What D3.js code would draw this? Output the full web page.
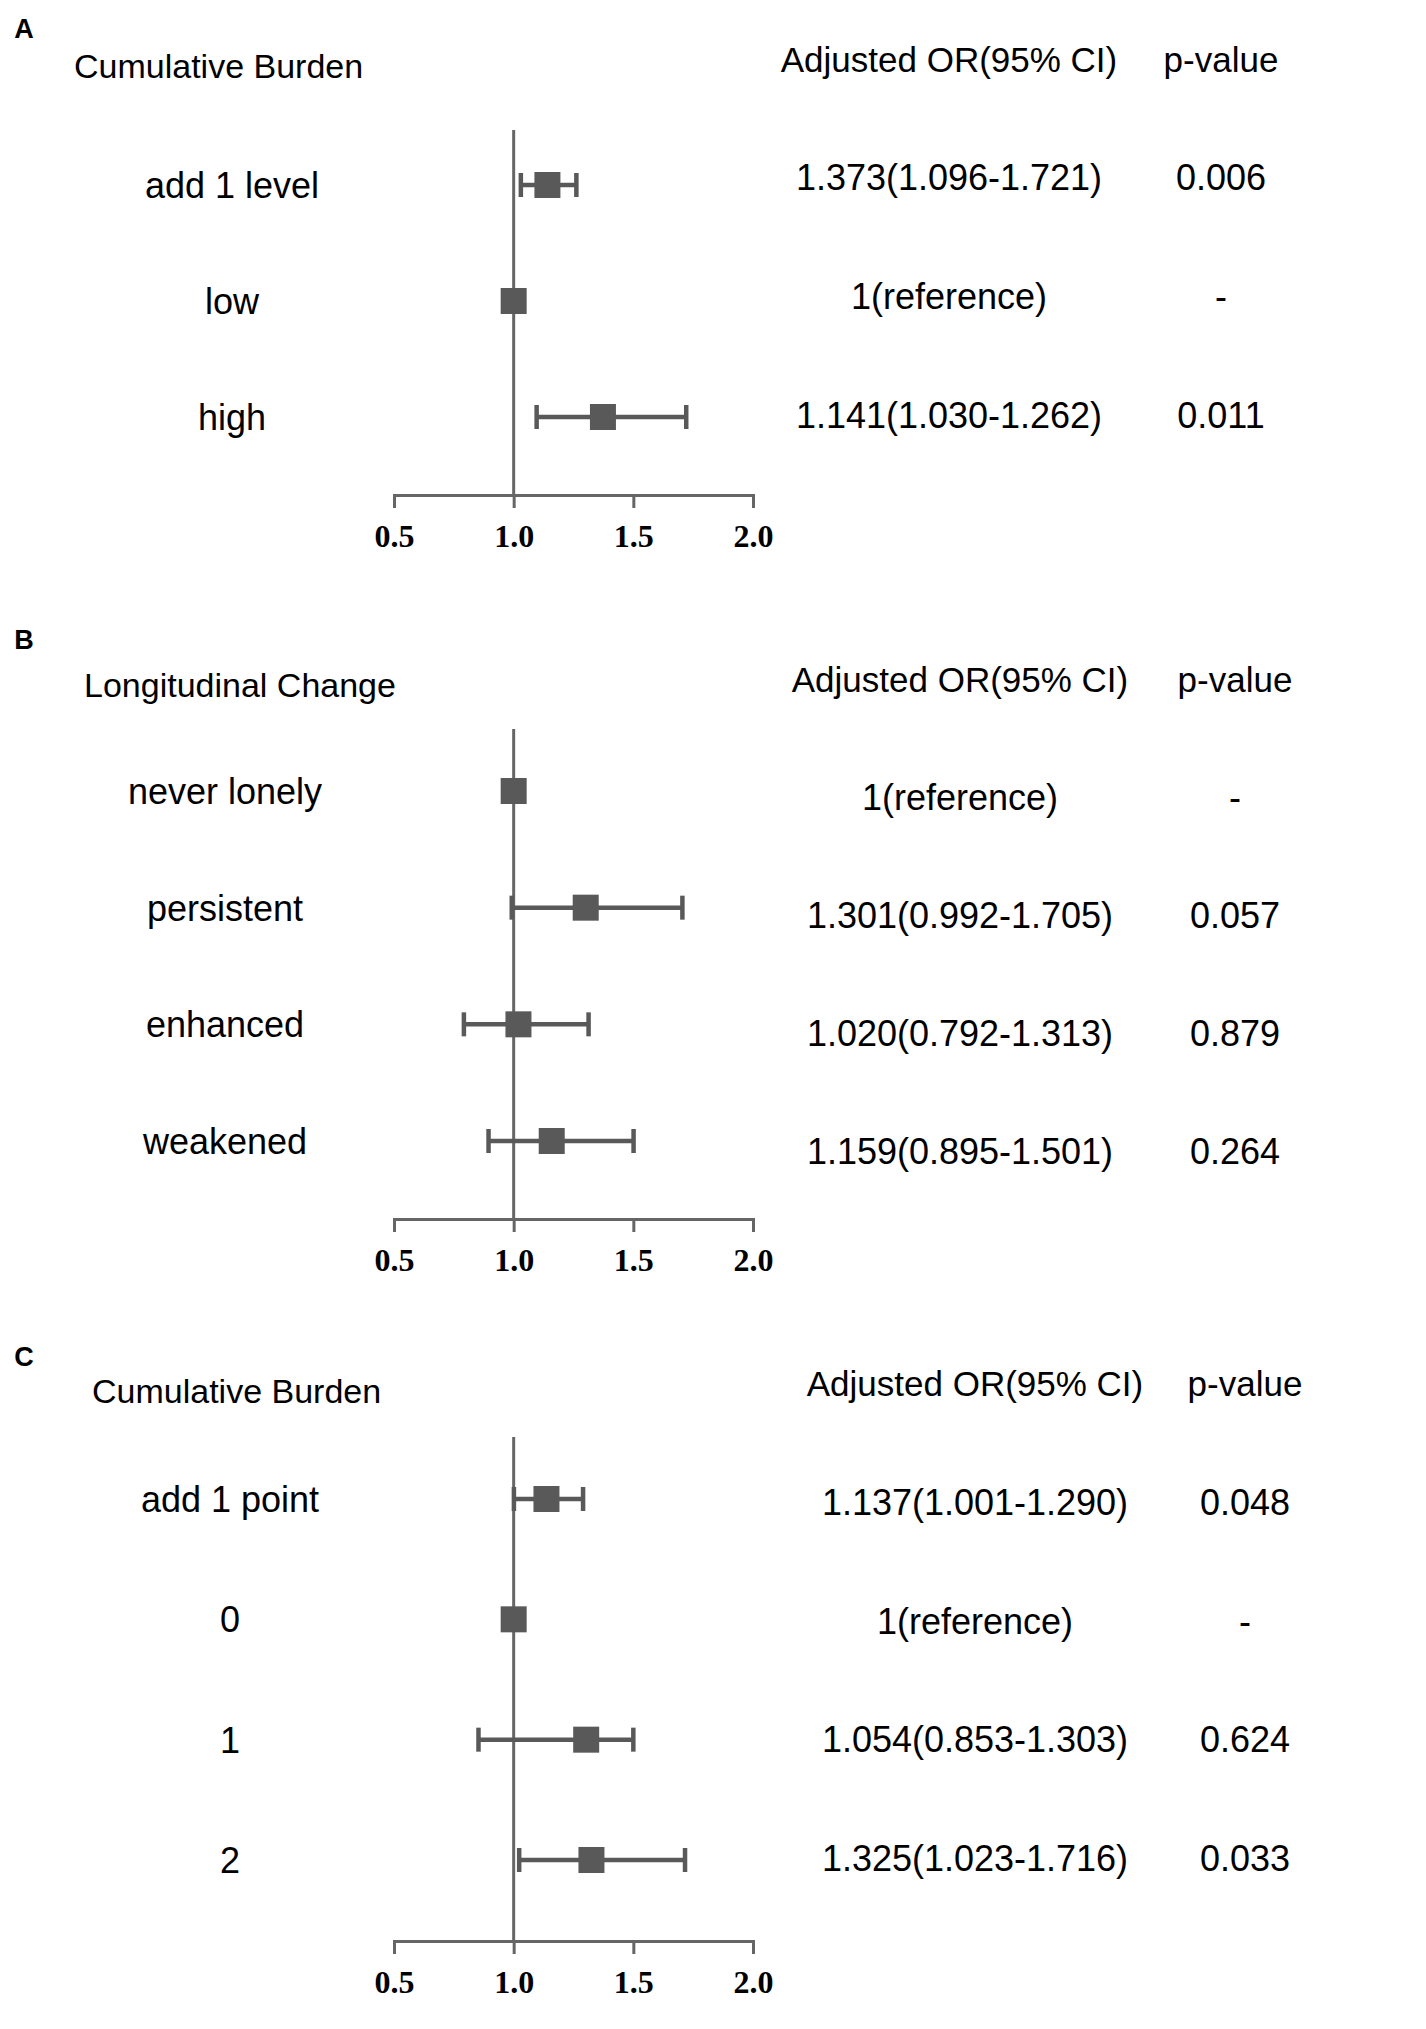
<!DOCTYPE html>
<html>
<head>
<meta charset="utf-8">
<script src="https://cdn.jsdelivr.net/npm/d3@7"></script>
<style>
  body { margin: 0; background: #fff; }
  text { font-family: "Liberation Sans", Arial, sans-serif; fill: #000; }
</style>
</head>
<body>
<svg id="chart"></svg>
<script>
const WIDTH = 1426;
const HEIGHT = 2029;

const MARK_COLOR = '#595959';
const LINE_COLOR = '#666';

// x axis shared by all three panels
const axisTicks = [0.5, 1.0, 1.5, 2.0];

// panel A
const labelsA = ['add 1 level', 'low', 'high'];
const estA = [1.141, 1, 1.373];
const lowA = [1.030, null, 1.096];
const highA = [1.262, null, 1.721];
const orTextA = ['1.373(1.096-1.721)', '1(reference)', '1.141(1.030-1.262)'];
const pTextA = ['0.006', '-', '0.011'];

// panel B
const labelsB = ['never lonely', 'persistent', 'enhanced', 'weakened'];
const estB = [1, 1.301, 1.020, 1.159];
const lowB = [null, 0.992, 0.792, 0.895];
const highB = [null, 1.705, 1.313, 1.501];
const orTextB = ['1(reference)', '1.301(0.992-1.705)', '1.020(0.792-1.313)', '1.159(0.895-1.501)'];
const pTextB = ['-', '0.057', '0.879', '0.264'];

// panel C
const labelsC = ['add 1 point', '0', '1', '2'];
const estC = [1.137, 1, 1.303, 1.325];
const lowC = [1.001, null, 0.853, 1.023];
const highC = [1.290, null, 1.500, 1.716];
const orTextC = ['1.137(1.001-1.290)', '1(reference)', '1.054(0.853-1.303)', '1.325(1.023-1.716)'];
const pTextC = ['0.048', '-', '0.624', '0.033'];

const svg = d3.select('#chart').attr('width', WIDTH).attr('height', HEIGHT);

const x = d3.scaleLinear().domain([0.5, 2.0]).range([394, 753]);

function drawPanel(p) {
    const rows = p.labels.map((label, i) => ({
        label: label,
        est: p.est[i],
        low: p.low[i],
        high: p.high[i],
        or: p.orText[i],
        pv: p.pText[i]
    }));

    const yRow = d3.scalePoint().domain(p.labels).range(p.rowRange);
    const yVal = d3.scalePoint().domain(p.labels).range(p.valRange);

    const g = svg.append('g');

    g.append('text')
        .attr('x', 24)
        .attr('y', p.letterY)
        .attr('dy', '0.36em')
        .attr('text-anchor', 'middle')
        .style('font-weight', 'bold')
        .style('font-size', '27px')
        .text(p.letter);

    g.append('text')
        .attr('x', p.headX)
        .attr('y', p.headY)
        .attr('dy', '0.36em')
        .style('font-size', '34px')
        .text(p.title);

    g.append('text')
        .attr('x', p.orX)
        .attr('y', p.colHeadY)
        .attr('dy', '0.36em')
        .attr('text-anchor', 'middle')
        .style('font-size', '35px')
        .text('Adjusted OR(95% CI)');

    g.append('text')
        .attr('x', p.pX)
        .attr('y', p.colHeadY)
        .attr('dy', '0.36em')
        .attr('text-anchor', 'middle')
        .style('font-size', '35px')
        .text('p-value');

    // bottom axis
    const axis = g.append('g')
        .attr('transform', `translate(0, ${p.base})`)
        .call(d3.axisBottom(x)
            .tickValues(axisTicks)
            .tickSize(13)
            .tickSizeOuter(13)
            .tickPadding(16)
            .tickFormat(d3.format('.1f')));
    axis.selectAll('path, line').attr('stroke', LINE_COLOR).attr('stroke-width', 3);
    axis.selectAll('text')
        .style('font-family', '"Liberation Serif", "Times New Roman", serif')
        .style('font-weight', 'bold')
        .style('font-size', '32px')
        .attr('fill', '#000');

    // reference line at OR = 1
    g.append('line')
        .attr('x1', x(1)).attr('x2', x(1))
        .attr('y1', p.top).attr('y2', p.base)
        .attr('stroke', LINE_COLOR)
        .attr('stroke-width', 3);

    const ci = rows.filter(d => d.low != null);

    g.selectAll('.ci')
        .data(ci)
        .join('line')
        .attr('class', 'ci')
        .attr('x1', d => x(d.low)).attr('x2', d => x(d.high))
        .attr('y1', d => yRow(d.label)).attr('y2', d => yRow(d.label))
        .attr('stroke', MARK_COLOR)
        .attr('stroke-width', 4.5);

    g.selectAll('.cap')
        .data(ci.flatMap(d => [{ v: d.low, label: d.label }, { v: d.high, label: d.label }]))
        .join('line')
        .attr('class', 'cap')
        .attr('x1', d => x(d.v)).attr('x2', d => x(d.v))
        .attr('y1', d => yRow(d.label) - 12).attr('y2', d => yRow(d.label) + 12)
        .attr('stroke', MARK_COLOR)
        .attr('stroke-width', 4.5);

    g.selectAll('.est')
        .data(rows)
        .join('rect')
        .attr('class', 'est')
        .attr('x', d => x(d.est) - 13)
        .attr('y', d => yRow(d.label) - 13)
        .attr('width', 26)
        .attr('height', 26)
        .attr('fill', MARK_COLOR);

    g.selectAll('.row-label')
        .data(rows)
        .join('text')
        .attr('class', 'row-label')
        .attr('x', p.labelX)
        .attr('y', d => yRow(d.label))
        .attr('dy', '0.36em')
        .attr('text-anchor', 'middle')
        .style('font-size', '36px')
        .text(d => d.label);

    g.selectAll('.or-text')
        .data(rows)
        .join('text')
        .attr('class', 'or-text')
        .attr('x', p.orX)
        .attr('y', d => yVal(d.label))
        .attr('dy', '0.36em')
        .attr('text-anchor', 'middle')
        .style('font-size', '36px')
        .text(d => d.or);

    g.selectAll('.p-text')
        .data(rows)
        .join('text')
        .attr('class', 'p-text')
        .attr('x', p.pX)
        .attr('y', d => yVal(d.label))
        .attr('dy', '0.36em')
        .attr('text-anchor', 'middle')
        .style('font-size', '36px')
        .text(d => d.pv);
}

drawPanel({
    letter: 'A', title: 'Cumulative Burden',
    labels: labelsA, est: estA, low: lowA, high: highA, orText: orTextA, pText: pTextA,
    letterY: 28, headX: 74, headY: 66, colHeadY: 59,
    top: 130, base: 495, rowRange: [185, 417], valRange: [177, 415],
    labelX: 232, orX: 949, pX: 1221
});

drawPanel({
    letter: 'B', title: 'Longitudinal Change',
    labels: labelsB, est: estB, low: lowB, high: highB, orText: orTextB, pText: pTextB,
    letterY: 639, headX: 84, headY: 685, colHeadY: 679,
    top: 729, base: 1219, rowRange: [791, 1141], valRange: [797, 1151],
    labelX: 225, orX: 960, pX: 1235
});

drawPanel({
    letter: 'C', title: 'Cumulative Burden',
    labels: labelsC, est: estC, low: lowC, high: highC, orText: orTextC, pText: pTextC,
    letterY: 1356, headX: 92, headY: 1391, colHeadY: 1383,
    top: 1437, base: 1941, rowRange: [1499, 1860], valRange: [1502, 1858],
    labelX: 230, orX: 975, pX: 1245
});
</script>
</body>
</html>
